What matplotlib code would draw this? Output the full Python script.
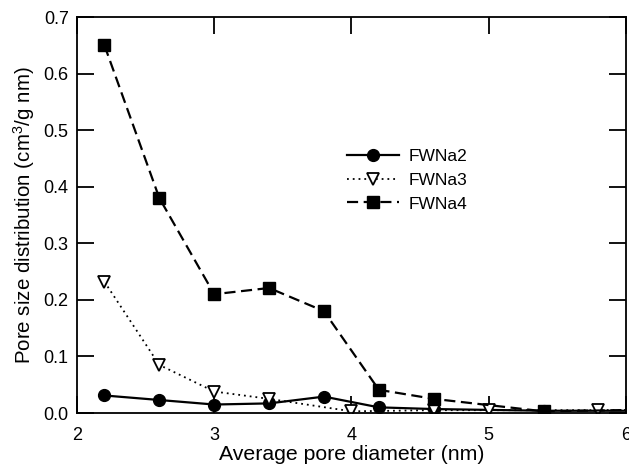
import matplotlib
matplotlib.use("Agg")
import matplotlib.pyplot as plt
from matplotlib.ticker import FormatStrFormatter

plt.rcParams['font.family'] = ['Liberation Sans', 'DejaVu Sans']
plt.rcParams['mathtext.default'] = 'regular'

# Pore size distribution data (cm^3/g nm) against average pore diameter (nm)
x_fwna2 = [2.2, 2.6, 3.0, 3.4, 3.8, 4.2, 4.6, 5.4, 6.2]
y_fwna2 = [0.031, 0.023, 0.015, 0.017, 0.029, 0.010, 0.007, 0.004, 0.004]

x_fwna3 = [2.2, 2.6, 3.0, 3.4, 4.0, 4.6, 5.0, 5.8, 6.2]
y_fwna3 = [0.232, 0.085, 0.038, 0.025, 0.003, 0.005, 0.005, 0.005, 0.006]

x_fwna4 = [2.2, 2.6, 3.0, 3.4, 3.8, 4.2, 4.6, 5.4, 6.2]
y_fwna4 = [0.650, 0.380, 0.210, 0.221, 0.180, 0.041, 0.025, 0.003, 0.006]

labels = ['FWNa2', 'FWNa3', 'FWNa4']
x_ticks = [2, 3, 4, 5, 6]
y_ticks = [0.0, 0.1, 0.2, 0.3, 0.4, 0.5, 0.6, 0.7]

fig = plt.figure(figsize=(6.29, 4.65), dpi=100)
ax = fig.add_axes([0.1224, 0.1118, 0.8726, 0.8516])

ax.plot(x_fwna2, y_fwna2, color='black', linestyle='-', linewidth=1.6,
        marker='o', markersize=8.5, markerfacecolor='black',
        markeredgecolor='black', label=labels[0], clip_on=True)
ax.plot(x_fwna3, y_fwna3, color='black', linestyle=(0, (1, 2.2)), linewidth=1.3,
        marker='v', markersize=9, markerfacecolor='white',
        markeredgecolor='black', markeredgewidth=1.3, label=labels[1], clip_on=True)
ax.plot(x_fwna4, y_fwna4, color='black', linestyle=(0, (5, 2.5)), linewidth=1.6,
        marker='s', markersize=8, markerfacecolor='black',
        markeredgecolor='black', label=labels[2], clip_on=True)

ax.set_xlim(2, 6)
ax.set_ylim(0, 0.7)
ax.set_xticks(x_ticks)
ax.set_yticks(y_ticks)
ax.yaxis.set_major_formatter(FormatStrFormatter('%.1f'))

ax.tick_params(direction='in', top=True, right=True, length=12.5, width=1.3,
               labelsize=13, pad=6, colors='black')
ax.tick_params(axis='x', labeltop=False, pad=10)
for sp in ax.spines.values():
    sp.set_linewidth(1.3)

ax.set_xlabel('Average pore diameter (nm)', fontsize=15.3, labelpad=1)
ax.set_ylabel('Pore size distribution (cm$^3$/g nm)', fontsize=14.8, labelpad=5)

leg = ax.legend(loc='upper left', bbox_to_anchor=(0.48, 0.685), frameon=False,
                fontsize=12.5, handlelength=3.0, handletextpad=0.5,
                labelspacing=0.5, borderaxespad=0)

fig.savefig('out.png', dpi=100)
